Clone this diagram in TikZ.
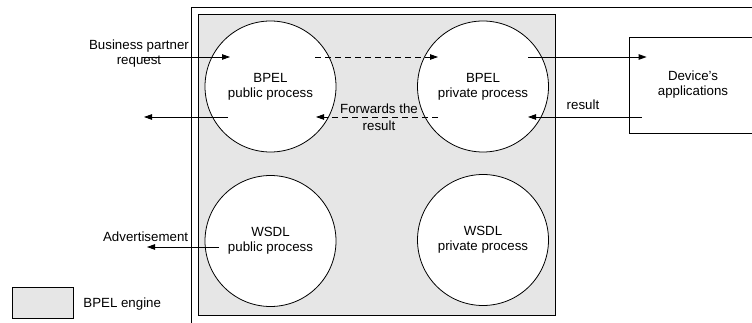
\documentclass[tikz,border=0pt]{standalone}
\usepackage{fontspec}
\setmainfont{Liberation Sans}
\usetikzlibrary{arrows.meta,calc}
\definecolor{enginegray}{RGB}{230,230,230}

\begin{document}
\begin{tikzpicture}[x=1pt,y=-1pt,
  font=\fontsize{13.3}{15}\selectfont,
  line width=0.8pt,
  proc/.style={circle, draw, fill=white, minimum size=131pt, inner sep=0pt, align=center},
  flow/.style={-{Triangle[length=8pt,width=5.5pt]}},
  fwd/.style={flow, dash pattern=on 6pt off 4pt},
  lbl/.style={inner sep=0pt, align=center}
]
\useasboundingbox (0,0) rectangle (752,323);

% device boundary
\draw (191,323) -- (191,7) -- (752,7);

% BPEL engine area
\node[draw, fill=enginegray, minimum width=357pt, minimum height=301pt, inner sep=0pt]
  (engine) at (376.5,164.5) {};

% processes
\node[proc] (bpub)  at (270.5,86.5) {BPEL\\public process};
\node[proc] (bpriv) at (483,86.5)   {BPEL\\private process};
\node[proc] (wpub)  at (270.5,241)  {WSDL\\public process};
\node[proc] (wpriv) at (483,240)    {WSDL\\private process};

% device applications
\node[draw, minimum width=128pt, minimum height=96pt, inner sep=0pt, align=center]
  (dev) at (693,85) {Device's\\applications};

% connector end points
\coordinate (reqsrc)  at (142,57);
\coordinate (reqin)   at ($(bpub.center)+(-40.5,-29.5)$);
\coordinate (pubout)  at ($(bpub.center)+(44.5,-29.5)$);
\coordinate (privin)  at ($(bpriv.center)+(-45,-29.5)$);
\coordinate (privout) at ($(bpriv.center)+(45,-29.5)$);
\coordinate (devin)   at ($(dev.west)+(18,-28)$);
\coordinate (devout)  at ($(dev.west)+(13,32)$);
\coordinate (privres) at ($(bpriv.center)+(45,30.5)$);
\coordinate (privfwd) at ($(bpriv.center)+(-45,30.5)$);
\coordinate (pubres)  at ($(bpub.center)+(45.5,30.5)$);
\coordinate (pubback) at ($(bpub.center)+(-42.5,30.5)$);
\coordinate (respt)   at (144,117);
\coordinate (wsdlout) at ($(wpub.center)+(-51.5,6)$);
\coordinate (advpt)   at (147,247);

% message flows
\draw[flow] (reqsrc) -- (reqin);
\draw[fwd]  (pubout) -- (privin);
\draw[flow] (privout) -- (devin);
\draw[flow] (devout) -- (privres);
\draw[fwd]  (privfwd) -- (pubres);
\draw[flow] (pubback) -- (respt);
\draw[flow] (wsdlout) -- (advpt);

% labels
\node[lbl] (reqlbl) at (139,53.5) {Business partner\\request};
\node[lbl, font=\fontsize{13.3}{16.5}\selectfont] (fwdlbl) at (379,117) {Forwards the\\result};
\node[lbl, anchor=base] (reslbl) at (583,110) {result};
\node[lbl, anchor=base east] (advlbl) at (188.5,241) {Advertisement};

% legend
\node[draw, fill=enginegray, minimum width=61pt, minimum height=31pt, inner sep=0pt]
  (legbox) at (42.5,302.5) {};
\node[lbl, anchor=base west] (leglbl) at (83,307.3) {BPEL engine};
\end{tikzpicture}
\end{document}
